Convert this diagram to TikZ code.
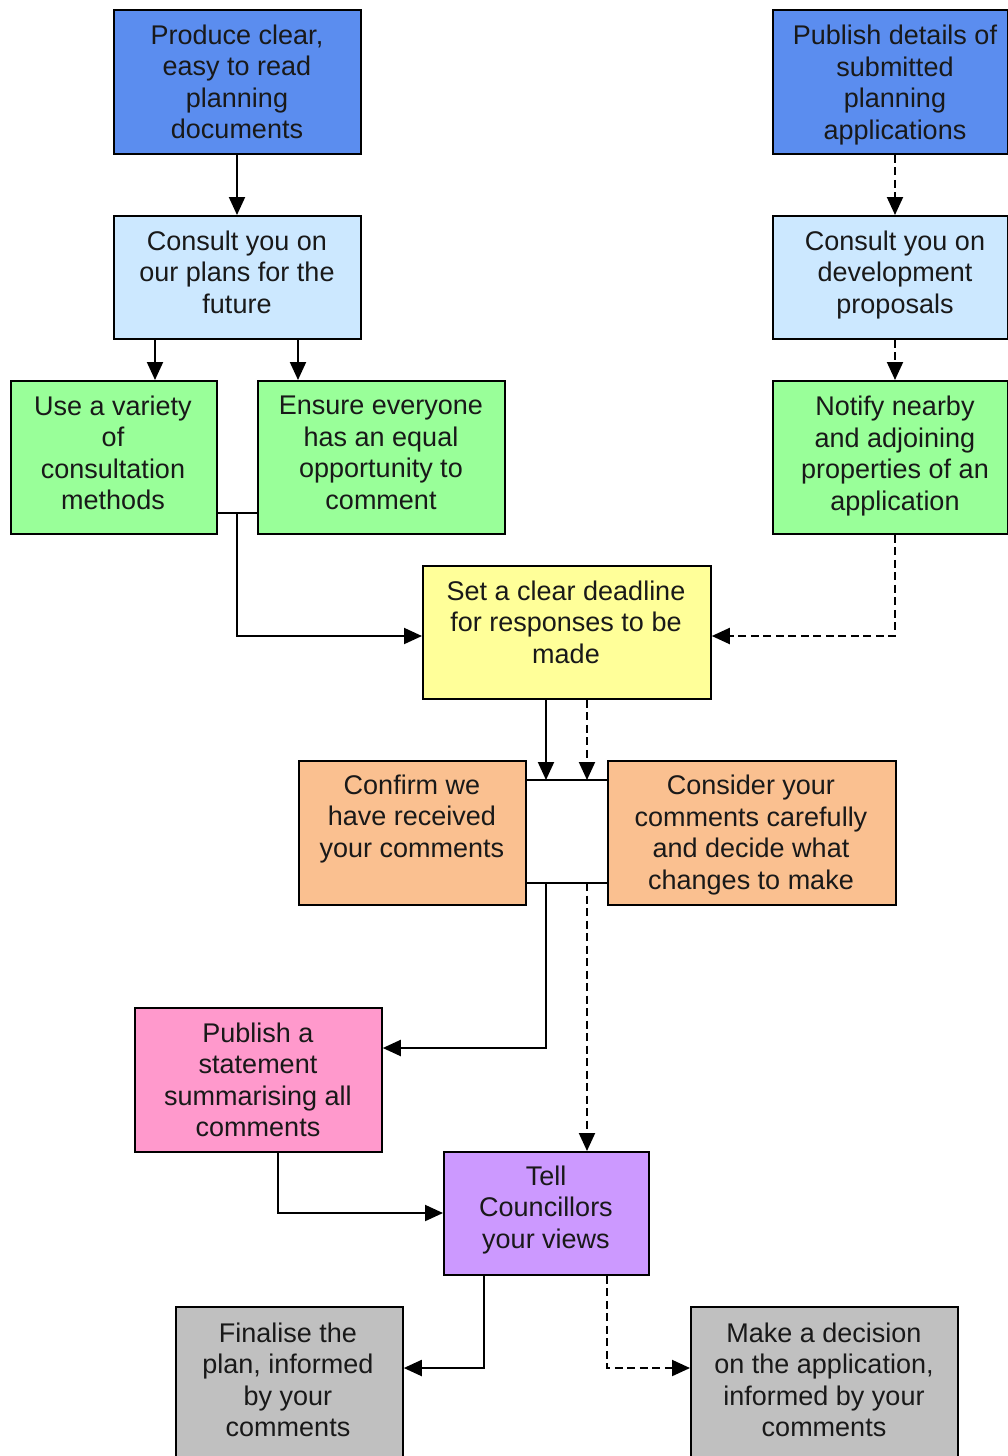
\documentclass[tikz,border=0pt]{standalone}
\usepackage{fontspec}
\setmainfont{Liberation Sans}
\usetikzlibrary{arrows.meta}
\definecolor{cblue}{RGB}{91,141,239}
\definecolor{clblue}{RGB}{204,232,255}
\definecolor{cgreen}{RGB}{153,255,153}
\definecolor{cyellow}{RGB}{255,255,153}
\definecolor{corange}{RGB}{250,192,144}
\definecolor{cpink}{RGB}{255,153,204}
\definecolor{cpurple}{RGB}{204,153,255}
\definecolor{cgrey}{RGB}{192,192,192}
\tikzset{
  box/.style={draw=black, line width=1.8pt, rectangle, inner sep=0pt, anchor=north west},
  txt/.style={align=center, inner sep=0pt, font=\fontsize{27}{31.5}\selectfont, text=black!90},
  conn/.style={line width=2pt, draw=black},
  arr/.style={conn, -{Triangle[length=18pt,width=16pt]}},
  darr/.style={arr, dash pattern=on 8pt off 4.5pt},
  dline/.style={conn, dash pattern=on 8pt off 4.5pt}
}
\begin{document}
\begin{tikzpicture}[x=1pt,y=-1pt]
\path[use as bounding box, fill=white] (0,0) rectangle (1008,1456);
\begin{scope}
\clip (0,0) rectangle (1008,1456);
% boxes (top-left corner, width, height)
\node[box, fill=cblue, minimum width=247pt, minimum height=144pt] (b1) at (113,9) {};
\node[box, fill=cblue, minimum width=235pt, minimum height=144pt] (b2) at (772,9) {};
\node[box, fill=clblue, minimum width=247pt, minimum height=123pt] (b3) at (113,215) {};
\node[box, fill=clblue, minimum width=235pt, minimum height=123pt] (b4) at (772,215) {};
\node[box, fill=cgreen, minimum width=206pt, minimum height=153pt] (b5) at (10,380) {};
\node[box, fill=cgreen, minimum width=247pt, minimum height=153pt] (b6) at (257,380) {};
\node[box, fill=cgreen, minimum width=235pt, minimum height=153pt] (b7) at (772,380) {};
\node[box, fill=cyellow, minimum width=288pt, minimum height=133pt] (b8) at (422,565) {};
\node[box, fill=corange, minimum width=227pt, minimum height=144pt] (b9) at (298,760) {};
\node[box, fill=corange, minimum width=288pt, minimum height=144pt] (b10) at (607,760) {};
\node[box, fill=cpink, minimum width=247pt, minimum height=144pt] (b11) at (134,1007) {};
\node[box, fill=cpurple, minimum width=205pt, minimum height=123pt] (b12) at (443,1151) {};
\node[box, fill=cgrey, minimum width=227pt, minimum height=170pt] (b13) at (175,1306) {};
\node[box, fill=cgrey, minimum width=267pt, minimum height=170pt] (b14) at (690,1306) {};
% texts
\node[txt] (t1) at (237,82) {Produce clear,\\easy to read\\planning\\documents};
\node[txt] (t2) at (895,85) {Publish details of\\submitted\\planning\\applications};
\node[txt] (t3) at (237,272) {Consult you on\\our plans for the\\future};
\node[txt] (t4) at (895,275) {Consult you on\\development\\proposals};
\node[txt] (t5) at (113,453) {Use a variety\\of\\consultation\\methods};
\node[txt] (t6) at (381,453) {Ensure everyone\\has an equal\\opportunity to\\comment};
\node[txt] (t7) at (895,456) {Notify nearby\\and adjoining\\properties of an\\application};
\node[txt] (t8) at (566,622) {Set a clear deadline\\for responses to be\\made};
\node[txt] (t9) at (412,819) {Confirm we\\have received\\your comments};
\node[txt] (t10) at (751,835) {Consider your\\comments carefully\\and decide what\\changes to make};
\node[txt] (t11) at (258,1080) {Publish a\\statement\\summarising all\\comments};
\node[txt] (t12) at (546,1210) {Tell\\Councillors\\your views};
\node[txt] (t13) at (288,1380) {Finalise the\\plan, informed\\by your\\comments};
\node[txt] (t14) at (824,1380) {Make a decision\\on the application,\\informed by your\\comments};
\end{scope}
% connectors
\draw[arr] (b1.south -| 237,0) -- (b3.north -| 237,0);
\draw[darr] (b2.south -| 895,0) -- (b4.north -| 895,0);
\draw[darr] (b4.south -| 895,0) -- (b7.north -| 895,0);
\draw[arr] (b3.south -| 155,0) -- (b5.north -| 155,0);
\draw[arr] (b3.south -| 298,0) -- (b6.north -| 298,0);
\coordinate (j56) at (237,513);
\draw[conn] (b5.east |- j56) -- (b6.west |- j56);
\draw[arr] (j56) -- (237,636) -- (b8.west |- 0,636);
\draw[darr] (b7.south -| 895,0) -- (895,636) -- (b8.east |- 0,636);
\coordinate (jtop) at (546,780);
\coordinate (jbot) at (546,883);
\draw[conn] (b9.east |- jtop) -- (b10.west |- jtop);
\draw[conn] (b9.east |- jbot) -- (b10.west |- jbot);
\draw[arr] (b8.south -| 546,0) -- (jtop);
\draw[darr] (b8.south -| 587,0) -- (587,780);
\draw[arr] (jbot) -- (546,1048) -- (b11.east |- 0,1048);
\draw[darr] (587,883) -- (b12.north -| 587,0);
\draw[arr] (b11.south -| 278,0) -- (278,1213) -- (b12.west |- 0,1213);
\draw[arr] (b12.south -| 484,0) -- (484,1368) -- (b13.east |- 0,1368);
\draw[darr] (b12.south -| 607,0) -- (607,1368) -- (b14.west |- 0,1368);
\end{tikzpicture}
\end{document}
